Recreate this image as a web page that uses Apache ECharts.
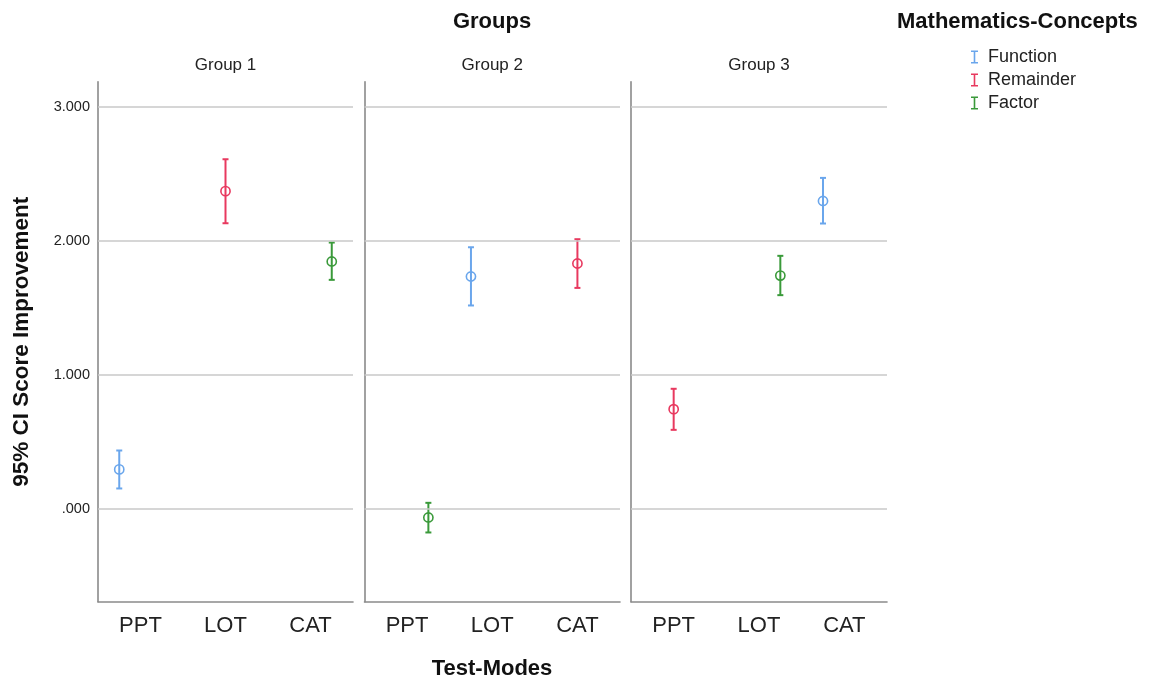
<!DOCTYPE html>
<html>
<head>
<meta charset="utf-8">
<script src="https://cdn.jsdelivr.net/npm/echarts@6/dist/echarts.min.js"></script>
<style>html,body{margin:0;padding:0;background:#fff;}#chart{width:1149px;height:680px;}</style>
</head>
<body>
<div id="chart"></div>
<script>
// ---- data ----
const testModes = ['PPT', 'LOT', 'CAT'];
const groups = ['Group 1', 'Group 2', 'Group 3'];
const concepts = ['Function', 'Remainder', 'Factor'];
const yTicks = [0, 1, 2, 3];

// test mode used by each concept in Group 1, Group 2, Group 3
const functionMode = ['PPT', 'LOT', 'CAT'];
const functionMean = [0.296, 1.734, 2.297];
const functionLower = [0.154, 1.518, 2.129];
const functionUpper = [0.437, 1.952, 2.469];

const remainderMode = ['LOT', 'CAT', 'PPT'];
const remainderMean = [2.370, 1.831, 0.745];
const remainderLower = [2.131, 1.649, 0.591];
const remainderUpper = [2.608, 2.012, 0.897];

const factorMode = ['CAT', 'PPT', 'LOT'];
const factorMean = [1.846, -0.062, 1.741];
const factorLower = [1.709, -0.174, 1.595];
const factorUpper = [1.987, 0.047, 1.888];

// ---- styling ----
const colors = ['#6aa6ec', '#e8395f', '#3a9a3a'];
const conceptData = [
  [functionMode, functionLower, functionMean, functionUpper],
  [remainderMode, remainderLower, remainderMean, remainderUpper],
  [factorMode, factorLower, factorMean, factorUpper]
];
const FONT = '"Liberation Sans", Arial, sans-serif';
const panels = [
  {left: 98, width: 255},
  {left: 364.5, width: 255.5},
  {left: 631, width: 256}
];
const TOP = 81.7, BOTTOM_Y = 601.7;
const Y_MIN = -0.69, Y_MAX = 3.186;

const grids = [], xAxes = [], yAxes = [], series = [];
panels.forEach((p, gi) => {
  grids.push({left: p.left, width: p.width, top: TOP, height: BOTTOM_Y - TOP, containLabel: false});
  xAxes.push({
    type: 'category', gridIndex: gi, data: testModes, boundaryGap: true,
    axisLine: {onZero: false, lineStyle: {color: '#8a8a8a', width: 1.6}},
    axisTick: {show: false},
    axisLabel: {fontFamily: FONT, fontSize: 22, color: '#222', margin: 13},
    splitLine: {show: false}
  });
  yAxes.push({
    type: 'value', gridIndex: gi, min: Y_MIN, max: Y_MAX,
    name: gi === 0 ? '95% CI Score Improvement' : '',
    nameLocation: 'middle', nameRotate: 90, nameGap: 65,
    nameTextStyle: {fontFamily: FONT, fontSize: 22.5, fontWeight: 'bold', color: '#111'},
    axisLine: {show: true, onZero: false, lineStyle: {color: '#8a8a8a', width: 1.6}},
    axisTick: {show: false},
    splitLine: {show: false},
    axisLabel: {
      show: gi === 0, fontFamily: FONT, fontSize: 14.5, color: '#222', margin: 8,
      formatter: v => {
        if (!yTicks.some(t => Math.abs(t - v) < 1e-9)) return '';
        return v === 0 ? '.000' : v.toFixed(3);
      }
    }
  });
  // gridlines
  series.push({
    type: 'line', xAxisIndex: gi, yAxisIndex: gi, data: [], silent: true,
    markLine: {
      silent: true, symbol: 'none', label: {show: false},
      lineStyle: {color: '#c8c8c8', width: 1.6, type: 'solid'},
      data: yTicks.map(t => ({yAxis: t}))
    }
  });
  conceptData.forEach((cd, ci) => {
    const [mode, lower, mean, upper] = cd;
    series.push({
      type: 'custom', name: concepts[ci], xAxisIndex: gi, yAxisIndex: gi,
      itemStyle: {color: colors[ci]},
      data: [[testModes.indexOf(mode[gi]), lower[gi], mean[gi], upper[gi]]],
      renderItem: (params, api) => {
        const cat = api.value(0);
        const lo = api.coord([cat, api.value(1)]);
        const mid = api.coord([cat, api.value(2)]);
        const hi = api.coord([cat, api.value(3)]);
        const band = api.size([1, 0])[0];
        const cx = mid[0] + (ci - 1) * band * 0.25;
        const st = {stroke: colors[ci], lineWidth: 2, fill: null};
        return {
          type: 'group', children: [
            {type: 'line', shape: {x1: cx, y1: hi[1], x2: cx, y2: lo[1]}, style: st},
            {type: 'line', shape: {x1: cx - 3, y1: hi[1], x2: cx + 3, y2: hi[1]}, style: st},
            {type: 'line', shape: {x1: cx - 3, y1: lo[1], x2: cx + 3, y2: lo[1]}, style: st},
            {type: 'circle', shape: {cx: cx, cy: mid[1], r: 4.6}, style: {stroke: colors[ci], lineWidth: 1.6, fill: null}}
          ]
        };
      }
    });
  });
});

const titles = [
  {text: 'Groups', left: 492, top: 11, padding: 0, textAlign: 'center',
   textStyle: {fontFamily: FONT, fontSize: 22, fontWeight: 'bold', color: '#111'}},
  {text: 'Mathematics-Concepts', left: 897, top: 11, padding: 0,
   textStyle: {fontFamily: FONT, fontSize: 22, fontWeight: 'bold', color: '#111'}},
  {text: 'Test-Modes', left: 492, top: 658, padding: 0, textAlign: 'center',
   textStyle: {fontFamily: FONT, fontSize: 22, fontWeight: 'bold', color: '#111'}}
];
groups.forEach((g, gi) => {
  titles.push({text: g, left: panels[gi].left + panels[gi].width / 2, top: 57, padding: 0, textAlign: 'center',
    textStyle: {fontFamily: FONT, fontSize: 17, fontWeight: 'normal', color: '#222'}});
});

const ibeam = 'path://M0,0 L7,0 L7,1.6 L4.3,1.6 L4.3,11.4 L7,11.4 L7,13 L0,13 L0,11.4 L2.7,11.4 L2.7,1.6 L0,1.6 Z';

const chart = echarts.init(document.getElementById('chart'), null, {renderer: 'canvas'});
chart.setOption({
  animation: false,
  backgroundColor: '#fff',
  title: titles,
  legend: {
    data: concepts.map(c => ({name: c, icon: ibeam})),
    orient: 'vertical', left: 971, top: 48, padding: 0,
    itemWidth: 7, itemHeight: 13, itemGap: 5,
    textStyle: {fontFamily: FONT, fontSize: 18, color: '#222', padding: [0, 0, 0, 5]},
    selectedMode: false
  },
  grid: grids,
  xAxis: xAxes,
  yAxis: yAxes,
  series: series
});
</script>
</body>
</html>
